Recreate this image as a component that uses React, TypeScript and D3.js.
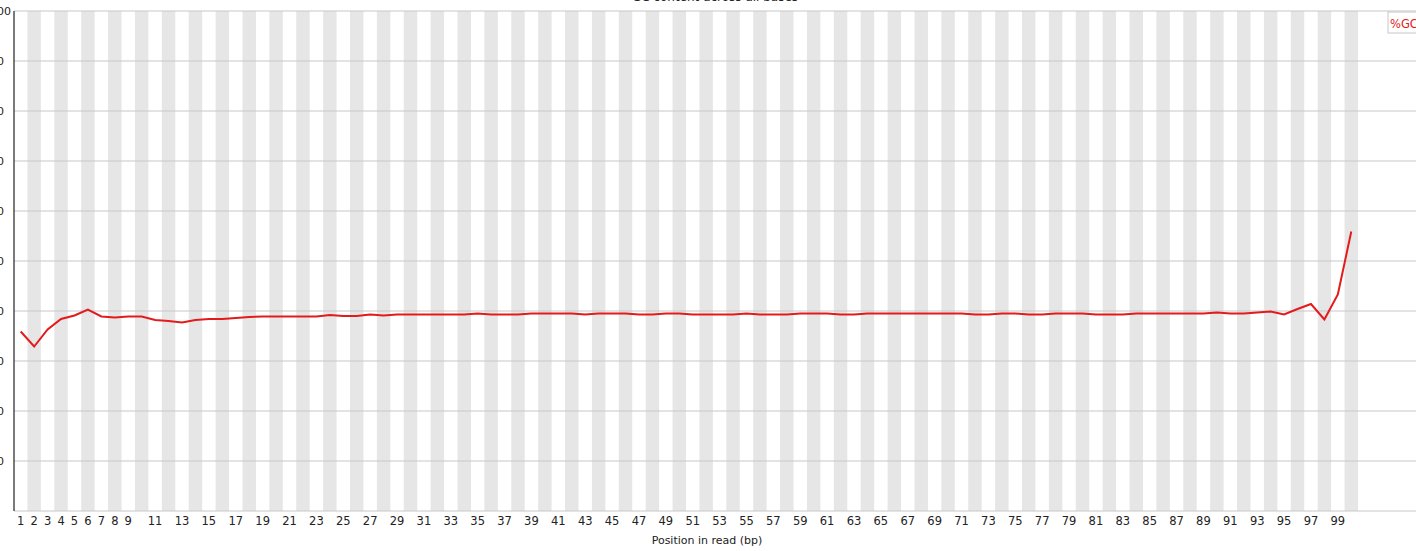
import React from "react";
import * as d3 from "d3";

const positions: string[] = Array.from({ length: 100 }, (_, i) => String(i + 1));
const tickLabels: string[] = [
  "1","2","3","4","5","6","7","8","9",
  "11","13","15","17","19","21","23","25","27","29","31","33","35","37","39",
  "41","43","45","47","49","51","53","55","57","59","61","63","65","67","69",
  "71","73","75","77","79","81","83","85","87","89","91","93","95","97","99",
];
const gcValues: number[] = [
  35.9, 32.9, 36.3, 38.4, 39.1, 40.3, 38.9, 38.7, 38.9, 38.9,
  38.2, 38.0, 37.7, 38.2, 38.4, 38.4, 38.6, 38.8, 38.9, 38.9,
  38.9, 38.9, 38.9, 39.2, 39.0, 39.0, 39.3, 39.1, 39.3, 39.3,
  39.3, 39.3, 39.3, 39.3, 39.5, 39.3, 39.3, 39.3, 39.5, 39.5,
  39.5, 39.5, 39.3, 39.5, 39.5, 39.5, 39.3, 39.3, 39.5, 39.5,
  39.3, 39.3, 39.3, 39.3, 39.5, 39.3, 39.3, 39.3, 39.5, 39.5,
  39.5, 39.3, 39.3, 39.5, 39.5, 39.5, 39.5, 39.5, 39.5, 39.5,
  39.5, 39.3, 39.3, 39.5, 39.5, 39.3, 39.3, 39.5, 39.5, 39.5,
  39.3, 39.3, 39.3, 39.5, 39.5, 39.5, 39.5, 39.5, 39.5, 39.7,
  39.5, 39.5, 39.7, 39.9, 39.3, 40.4, 41.4, 38.3, 43.3, 55.9,
];
const yTicks: number[] = [0, 10, 20, 30, 40, 50, 60, 70, 80, 90, 100];
const seriesName = "%GC";
const title = "GC content across all bases";
const xTitle = "Position in read (bp)";

export default function App() {
  const W = 1416, H = 551;
  const left = 14, top = 11, bottom = 511;
  const bandW = 13.44;
  const x = d3.scaleBand<string>().domain(positions).range([left, left + bandW * positions.length]);
  const y = d3.scaleLinear().domain([0, 100]).range([bottom, top]);
  const line = d3
    .line<number>()
    .x((_, i) => (x(positions[i]) as number) + x.bandwidth() / 2)
    .y((d) => y(d));
  const font = "'DejaVu Sans', sans-serif";
  return (
    <svg width={W} height={H} style={{ position: "absolute", left: 0, top: 0, background: "#fff" }} fontFamily={font}>
      {positions.map((p, i) =>
        i % 2 === 1 ? (
          <rect key={p} x={x(p)} y={top} width={x.bandwidth()} height={bottom - top} fill="#e6e6e6" />
        ) : null
      )}
      {yTicks.map((t) => (
        <line key={t} x1={left} x2={W} y1={y(t)} y2={y(t)} stroke="#c8c8c8" strokeWidth={1.2} />
      ))}
      <line x1={left} x2={left} y1={top} y2={bottom} stroke="#222" strokeWidth={1.2} />
      {yTicks.map((t) => (
        <text key={t} x={-10} y={y(t) + 4} textAnchor="start" fontSize={11} fill="#222">
          {t}
        </text>
      ))}
      {tickLabels.map((l) => (
        <text key={l} x={(x(l) as number) + x.bandwidth() / 2} y={525} textAnchor="middle" fontSize={11.5} fill="#222">
          {l}
        </text>
      ))}
      <text x={707} y={544} textAnchor="middle" fontSize={11} fill="#222">{xTitle}</text>
      <text x={715} y={1} textAnchor="middle" fontSize={12} fill="#222">{title}</text>
      <path d={line(gcValues) || ""} fill="none" stroke="#e41a1c" strokeWidth={2} />
      <rect x={1388} y={12} width={40} height={21} fill="#fff" stroke="#c8c8c8" />
      <text x={1390} y={28} fontSize={11.5} fill="#e41a1c">{seriesName}</text>
    </svg>
  );
}
